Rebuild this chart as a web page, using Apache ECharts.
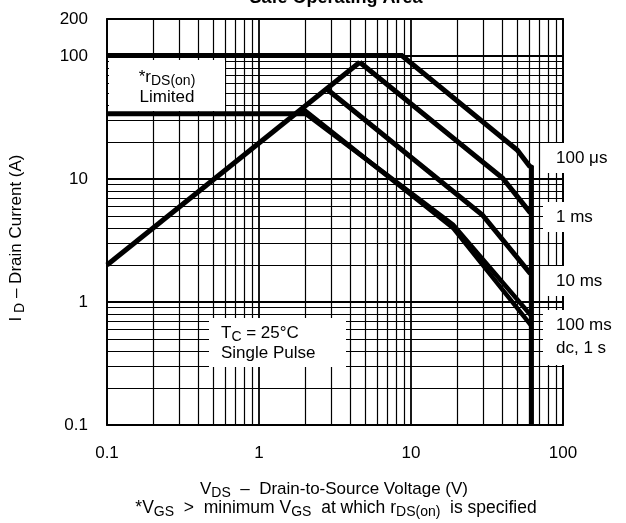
<!DOCTYPE html>
<html>
<head>
<meta charset="utf-8">
<script src="https://cdn.jsdelivr.net/npm/echarts@6/dist/echarts.min.js"></script>
<style>html,body{margin:0;padding:0;background:#fff}#c{width:626px;height:523px}</style>
</head>
<body>
<div id="c"></div>
<script>
// ---- data ----
const xTickLabels = ['0.1', '1', '10', '100'];
const yTickLabels = ['0.1', '1', '10', '100', '200'];
const rdsLimit = [[0.1, 2], [4.6, 89]];
const curve100us = [[0.1, 101], [8.7, 101], [50, 17.2], [60, 12.8], [62, 12.5], [62, 0.1]];
const curve1ms = [[4.6, 89], [40, 10.2], [61, 5.3]];
const curve10ms = [[2.79, 54], [29.5, 5.1], [61, 1.7]];
const curve100ms = [[1.85, 37], [18.9, 4.25], [62, 0.77]];
const curveDc = [[1.95, 37], [18.9, 4.0], [62, 0.64]];
const currentLimit = [[0.1, 34], [2.1, 34]];
const gridMultipliers = [1, 2, 3, 4, 5, 6, 7, 8, 9];
const xDecades = [0.1, 1, 10];
const yDecades = [0.1, 1, 10, 100];
const curveLabels = ['100 \u03bcs', '1 ms', '10 ms', '100 ms', 'dc, 1 s'];

const FONT = 'Liberation Sans, Arial, Helvetica, sans-serif';
const FS = 17;
const xGrid = [], yGrid = [];
xDecades.forEach(d => gridMultipliers.forEach(m => xGrid.push(+(d * m).toPrecision(3))));
xGrid.push(100);
yDecades.forEach(d => gridMultipliers.forEach(m => { if (!(d === 100 && m > 2)) yGrid.push(+(d * m).toPrecision(3)); }));
const isDecade = v => Math.abs(Math.log10(v) - Math.round(Math.log10(v))) < 1e-6;

const gridLines = [];
xGrid.forEach(v => gridLines.push({ xAxis: v, lineStyle: { width: isDecade(v) ? 1.8 : 1.2 } }));
yGrid.forEach(v => gridLines.push({ yAxis: v, lineStyle: { width: isDecade(v) ? 1.8 : 1.2 } }));

const fmt = v => (v >= 1 ? String(Math.round(v)) : v.toFixed(1));

const thick = (data, w) => ({
  type: 'line', data, showSymbol: false, symbol: 'none', silent: true, z: 5,
  lineStyle: { color: '#000', width: w || 5, cap: 'butt', join: 'miter' }
});

const chart = echarts.init(document.getElementById('c'), null, { renderer: 'canvas' });
const sub = { fontSize: 14, lineHeight: 14, padding: [8, 0, 0, 0], fontFamily: FONT, color: '#000' };
const txt = { fontSize: FS, lineHeight: 20, fontFamily: FONT, color: '#000' };

chart.setOption({
  animation: false,
  backgroundColor: '#fff',
  grid: { left: 107, right: 63, top: 19, bottom: 98, show: true, borderColor: '#000', borderWidth: 1.8, backgroundColor: 'transparent' },
  xAxis: {
    type: 'log', logBase: 10, min: 0.1, max: 100,
    axisLine: { show: false }, axisTick: { show: false }, splitLine: { show: false },
    axisLabel: {
      margin: 20, fontSize: FS, fontFamily: FONT, color: '#000',
      formatter: v => { const s = fmt(v); return xTickLabels.includes(s) ? s : ''; }
    }
  },
  yAxis: {
    type: 'log', logBase: 10, min: 0.1, max: 200,
    axisLine: { show: false }, axisTick: { show: false }, splitLine: { show: false },
    axisLabel: {
      margin: 19, fontSize: FS, fontFamily: FONT, color: '#000', showMaxLabel: true,
      formatter: v => { const s = fmt(v); return yTickLabels.includes(s) ? s : ''; }
    }
  },
  series: [
    {
      type: 'line', data: [], silent: true, z: 1,
      markLine: { silent: true, symbol: 'none', animation: false, label: { show: false },
        lineStyle: { color: '#000', type: 'solid', width: 1 }, data: gridLines }
    },
    thick(rdsLimit),
    thick(curve100us),
    thick(curve1ms),
    thick(curve10ms),
    thick(curve100ms, 4.5),
    thick(curveDc, 4.5),
    thick(currentLimit)
  ],
  graphic: [
    { type: 'text', x: 336, y: -11, z: 50, style: { text: 'Safe Operating Area', font: 'bold 18px ' + FONT, fill: '#000', align: 'center' } },
    { type: 'rect', shape: { x: 109, y: 60, width: 116, height: 51 }, style: { fill: '#fff' }, z: 50 },
    { type: 'text', x: 167, y: 87, z: 51, style: {
        text: '{n|*r}{s|DS(on)}\n{n|Limited}', align: 'center', verticalAlign: 'middle',
        rich: { n: txt, s: sub } } },
    { type: 'rect', shape: { x: 209, y: 318, width: 137, height: 49 }, style: { fill: '#fff' }, z: 50 },
    { type: 'text', x: 221, y: 343, z: 51, style: {
        text: '{n|T}{s|C}{n| = 25\u00b0C}\n{n|Single Pulse}', align: 'left', verticalAlign: 'middle',
        rich: { n: txt, s: sub } } },
    { type: 'rect', shape: { x: 543, y: 143, width: 83, height: 30 }, style: { fill: '#fff' }, z: 50 },
    { type: 'rect', shape: { x: 543, y: 202, width: 83, height: 30 }, style: { fill: '#fff' }, z: 50 },
    { type: 'rect', shape: { x: 543, y: 266, width: 83, height: 30 }, style: { fill: '#fff' }, z: 50 },
    { type: 'rect', shape: { x: 543, y: 310, width: 83, height: 55 }, style: { fill: '#fff' }, z: 50 },
    { type: 'text', x: 556, y: 158, z: 51, style: { text: curveLabels[0], font: FS + 'px ' + FONT, fill: '#000', verticalAlign: 'middle' } },
    { type: 'text', x: 556, y: 217, z: 51, style: { text: curveLabels[1], font: FS + 'px ' + FONT, fill: '#000', verticalAlign: 'middle' } },
    { type: 'text', x: 556, y: 281, z: 51, style: { text: curveLabels[2], font: FS + 'px ' + FONT, fill: '#000', verticalAlign: 'middle' } },
    { type: 'text', x: 556, y: 325, z: 51, style: { text: curveLabels[3], font: FS + 'px ' + FONT, fill: '#000', verticalAlign: 'middle' } },
    { type: 'text', x: 556, y: 348, z: 51, style: { text: curveLabels[4], font: FS + 'px ' + FONT, fill: '#000', verticalAlign: 'middle' } },
    { type: 'text', x: 16, y: 238, rotation: Math.PI / 2, z: 51, style: {
        text: '{n|I}{s| D}{n| \u2013 Drain Current (A)}', align: 'center', verticalAlign: 'middle',
        rich: { n: txt, s: sub } } },
    { type: 'text', x: 334, y: 489, z: 51, style: {
        text: '{n|V}{s|DS}{n|  \u2013  Drain-to-Source Voltage (V)}', align: 'center', verticalAlign: 'middle',
        rich: { n: txt, s: sub } } },
    { type: 'text', x: 336, y: 508, z: 51, style: {
        text: '{n|*V}{s|GS}{n|  >  minimum V}{s|GS}{n|  at which r}{s|DS(on)}{n|  is specified}', align: 'center', verticalAlign: 'middle',
        rich: { n: Object.assign({}, txt, { fontSize: 17.5 }), s: sub } } }
  ]
});
</script>
</body>
</html>
